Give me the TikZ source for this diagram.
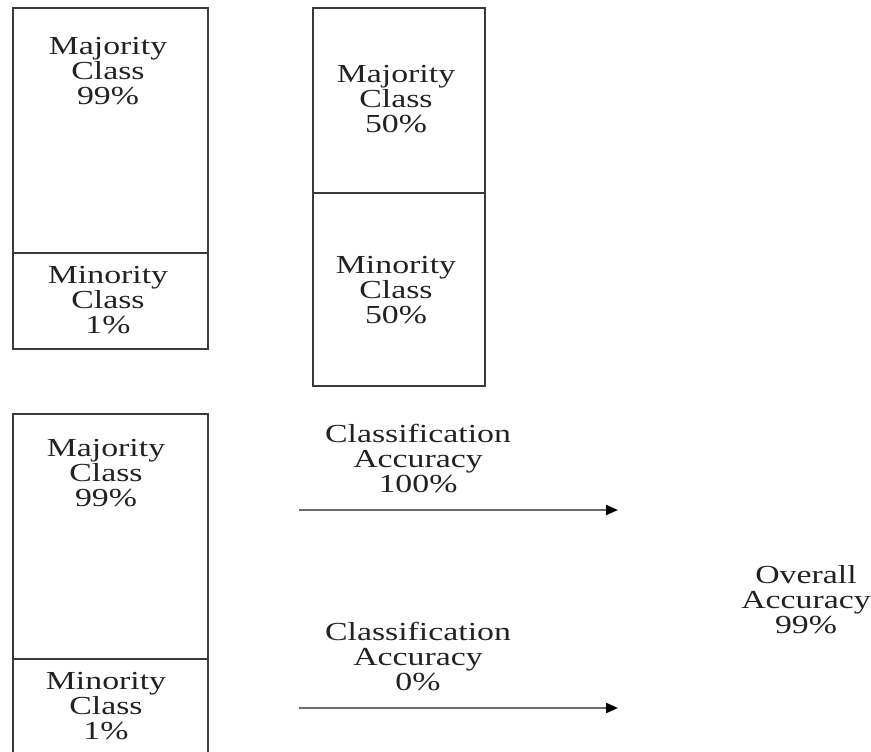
\documentclass[tikz,border=0pt]{standalone}
\usepackage{fontspec}
\setmainfont{Liberation Serif}[FakeStretch=1.3]
\usetikzlibrary{arrows.meta}
\definecolor{boxline}{HTML}{3A3A3A}
\definecolor{arrowline}{HTML}{6A6A6A}
\definecolor{txt}{HTML}{222222}
\tikzset{
  part/.style={draw=boxline, line width=2pt, rectangle},
  lbl/.style={align=center, text=txt, inner sep=0pt, font=\fontsize{26pt}{25pt}\selectfont},
  flow/.style={draw=arrowline, line width=2pt, -{Triangle[length=12pt,width=10pt,color=black]}}
}
\begin{document}
\begin{tikzpicture}[x=1pt,y=-1pt]
\useasboundingbox (0,0) rectangle (871,752);
\clip (0,0) rectangle (871,752);
% top-left bar
\draw[part] (13,8) rectangle (208,253);
\draw[part] (13,253) rectangle (208,349);
\node[lbl] (maj1) at (108,71) {Majority\\Class\\99\%};
\node[lbl] (min1) at (108,300) {Minority\\Class\\1\%};
% top-right bar
\draw[part] (313,8) rectangle (485,193);
\draw[part] (313,193) rectangle (485,386);
\node[lbl] (maj2) at (396,99) {Majority\\Class\\50\%};
\node[lbl] (min2) at (396,290) {Minority\\Class\\50\%};
% bottom bar
\draw[part] (13,414) rectangle (208,659);
\draw[part] (13,659) rectangle (208,770);
\node[lbl] (maj3) at (106,473) {Majority\\Class\\99\%};
\node[lbl] (min3) at (106,706) {Minority\\Class\\1\%};
% arrows
\coordinate (a1s) at (299,510);
\coordinate (a1e) at (618,510);
\coordinate (a2s) at (299,708);
\coordinate (a2e) at (618,708);
\draw[flow] (a1s) -- (a1e);
\draw[flow] (a2s) -- (a2e);
\node[lbl] (acc1) at (418,459) {Classification\\Accuracy\\100\%};
\node[lbl] (acc2) at (418,657) {Classification\\Accuracy\\0\%};
\node[lbl] (overall) at (806,600) {Overall\\Accuracy\\99\%};
\end{tikzpicture}
\end{document}
